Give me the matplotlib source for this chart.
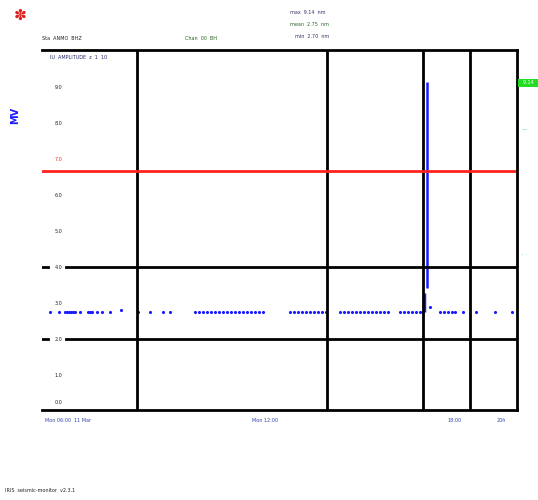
import numpy as np
import matplotlib
matplotlib.use('Agg')
import matplotlib.pyplot as plt

# Data (x in minutes from start, y in signal units)
dots_x = [8, 17, 23, 25, 27, 29, 31, 33, 38, 46, 48, 50, 55, 60, 68, 79, 96, 108, 121, 128,
          153, 157, 161, 165, 169, 173, 177, 181, 185, 189, 193, 197, 201, 205, 209, 213, 217, 221,
          248, 252, 256, 260, 264, 268, 272, 276, 280, 284,
          298, 302, 306, 310, 314, 318, 322, 326, 330, 334, 338, 342, 346,
          358, 362, 366, 370, 374, 378, 381, 388, 398, 402, 406, 410, 413, 421, 434, 453, 470]
dots_y = [2.75, 2.75, 2.75, 2.75, 2.75, 2.75, 2.75, 2.75, 2.75, 2.75, 2.75, 2.75, 2.75, 2.75, 2.75, 2.82, 2.75, 2.75, 2.75, 2.75,
          2.75, 2.75, 2.75, 2.75, 2.75, 2.75, 2.75, 2.75, 2.75, 2.75, 2.75, 2.75, 2.75, 2.75, 2.75, 2.75, 2.75, 2.75,
          2.75, 2.75, 2.75, 2.75, 2.75, 2.75, 2.75, 2.75, 2.75, 2.75,
          2.75, 2.75, 2.75, 2.75, 2.75, 2.75, 2.75, 2.75, 2.75, 2.75, 2.75, 2.75, 2.75,
          2.75, 2.75, 2.75, 2.75, 2.75, 2.75, 2.75, 2.88, 2.75, 2.75, 2.75, 2.75, 2.75, 2.75, 2.75, 2.75, 2.75]
spike_x = [382, 385]
spike_lo = [2.75, 3.42]
spike_hi = [3.28, 9.14]

day_lines = [95, 285, 381, 428]
limit_lines = [2.0, 4.0]
alarm_level = 6.67

yticks = [0.25, 1, 2, 3, 4, 5, 6, 7, 8, 9]
yticklabels = ['0.0', '1.0', '2.0', '3.0', '4.0', '5.0', '6.0', '7.0', '8.0', '9.0']
xtick_pos = [3, 210, 405, 455]
xtick_labels = ['Mon 06:00  11 Mar', 'Mon 12:00', '18:00', '20h']

W, H = 538, 500
fig = plt.figure(figsize=(W / 100, H / 100), dpi=100)
ax = fig.add_axes([42 / W, 90 / H, 475 / W, 360 / H])

ax.plot(dots_x, dots_y, ls='none', marker='.', ms=2.5, color='#1a1aff')
ax.vlines(spike_x, spike_lo, spike_hi, color='#1a1aff', lw=[2.5, 1.8])

for x in day_lines:
    ax.axvline(x, color='black', lw=2)
for y in limit_lines:
    ax.axhline(y, xmin=0.05, color='black', lw=2)
    ax.axhline(y, xmin=0, xmax=0.012, color='black', lw=2)
ax.axhline(alarm_level, color='#ff2020', lw=2)

ax.set_xlim(0, 475)
ax.set_ylim(0.03, 10.03)
for s in ['top', 'right', 'bottom']:
    ax.spines[s].set_linewidth(2)
ax.spines['left'].set_visible(False)

ax.set_yticks(yticks)
ax.set_yticklabels(yticklabels, fontsize=3.5, color='#222222')
ax.tick_params(axis='y', length=0, pad=-9)
for l in ax.get_yticklabels():
    l.set_horizontalalignment('left')
ax.get_yticklabels()[7].set_color('#ff2020')
ax.set_xticks(xtick_pos)
ax.set_xticklabels(xtick_labels, fontsize=3.5, color='#3344aa', ha='left')
ax.tick_params(axis='x', length=0, pad=6)

# inner label
ax.text(8, 9.83, 'IU  AMPLITUDE  z  1  10', fontsize=3.5, color='#222266', va='center')

# right-hand markers
fig.text(520 / W, 1 - 83 / H, '  9.14  ', fontsize=3.5, color='white', va='center',
         bbox=dict(facecolor='#22dd22', edgecolor='none', pad=1.2))
fig.text(522 / W, 1 - 130 / H, '—', fontsize=4, color='#44cc66', va='center')
fig.text(522 / W, 1 - 254 / H, '· ·', fontsize=4, color='#44cc44', va='center')

# y label
fig.text(15 / W, 1 - 115 / H, 'MV', fontsize=7, color='#1a1aff', rotation=90,
         fontweight='bold', ha='center', va='center')

# header
fig.text(20 / W, 1 - 15 / H, '✽', fontsize=11, color='#dd2222', ha='center', va='center')
fig.text(42 / W, 1 - 38 / H, 'Sta  ANMO  BHZ', fontsize=3.5, color='#222222', va='center')
fig.text(185 / W, 1 - 38 / H, 'Chan  00  BH', fontsize=3.5, color='#226622', va='center')
fig.text(290 / W, 1 - 12 / H, 'max  9.14  nm', fontsize=3.5, color='#333366', va='center')
fig.text(290 / W, 1 - 24 / H, 'mean  2.75  nm', fontsize=3.5, color='#336633', va='center')
fig.text(295 / W, 1 - 37 / H, 'min  2.70  nm', fontsize=3.5, color='#333366', va='center')

# footer
fig.text(5 / W, 1 - 490 / H, 'IRIS  seismic-monitor  v2.3.1', fontsize=3.5, color='#222222', va='center')

fig.savefig('out.png', dpi=100, facecolor='white')
